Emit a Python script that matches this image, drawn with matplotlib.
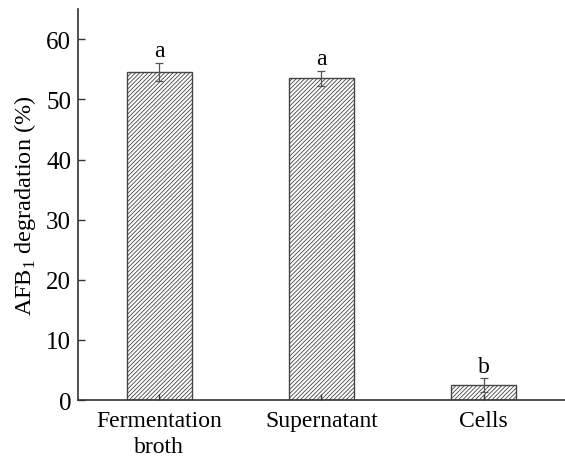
import matplotlib
matplotlib.use("Agg")
import matplotlib.pyplot as plt
import numpy as np

categories = ["Fermentation\nbroth", "Supernatant", "Cells"]
degradation = [54.6, 53.5, 2.5]
errors = [1.5, 1.2, 1.1]
letters = ["a", "a", "b"]

plt.rcParams['font.family'] = ['Liberation Serif', 'DejaVu Serif']
plt.rcParams['hatch.color'] = '#666666'
plt.rcParams['hatch.linewidth'] = 0.6

fig = plt.figure(figsize=(5.65, 4.6), dpi=100)
ax = fig.add_axes([0.138, 0.128, 0.862, 0.85])

x = np.arange(len(categories))
ax.bar(x, degradation, width=0.4, color='white', edgecolor='#444444',
       linewidth=1.0, hatch='////////')
ax.errorbar(x, degradation, yerr=errors, fmt='none', ecolor='#555555',
            elinewidth=0.9, capsize=3, capthick=0.9)

for xi, v, e, lab in zip(x, degradation, errors, letters):
    ax.text(xi, v + e + 0.3, lab, ha='center', va='bottom', fontsize=17)

ax.set_xlim(-0.5, 2.5)
ax.set_ylim(0, 65)
ax.set_yticks([0, 10, 20, 30, 40, 50, 60])
ax.set_xticks(x)
ax.set_xticklabels(categories, fontsize=17, linespacing=1.35)
ax.tick_params(axis='y', direction='in', length=5, labelsize=18, width=1, color='#333333', pad=5)
ax.tick_params(axis='x', direction='in', length=4, width=1, color='#333333', pad=7)
ax.set_ylabel(r"AFB$_\mathregular{1}$ degradation (%)", fontsize=17.5, labelpad=6)

ax.spines['top'].set_visible(False)
ax.spines['right'].set_visible(False)
for s in ['left', 'bottom']:
    ax.spines[s].set_color('#333333')
    ax.spines[s].set_linewidth(1.2)

fig.savefig("out.png", dpi=100)
